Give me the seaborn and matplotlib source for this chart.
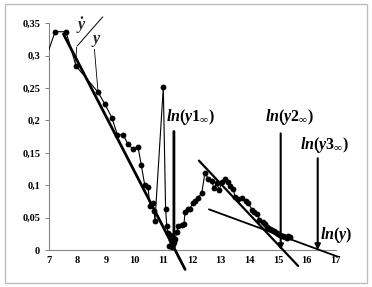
import matplotlib
matplotlib.use("Agg")
import matplotlib.pyplot as plt
import seaborn as sns
import numpy as np
from matplotlib.patches import Rectangle
from matplotlib.ticker import MultipleLocator, FuncFormatter

sns.set_style("white")
plt.rcParams['font.family'] = ['Liberation Serif', 'DejaVu Serif']
plt.rcParams['mathtext.fontset'] = 'custom'
plt.rcParams['mathtext.it'] = 'Liberation Serif:italic:bold'
plt.rcParams['mathtext.rm'] = 'Liberation Serif:bold'

# data series (ln scale on x, rate on y)
x_vals = [6.9, 7.23, 7.61, 7.96, 8.72, 8.97, 9.21, 9.40, 9.59, 9.78, 9.94, 10.12,
          10.23, 10.35, 10.47, 10.53, 10.63, 10.68, 10.71, 11.00, 11.08, 11.12,
          11.17, 11.23, 11.26, 11.21, 11.29, 11.35, 11.41, 11.47, 11.52, 11.64,
          11.72, 11.76, 11.87, 11.93, 12.02, 12.10, 12.22, 12.34, 12.45, 12.57,
          12.69, 12.77, 12.86, 12.95, 13.03, 13.15, 13.27, 13.32, 13.44, 13.50,
          13.61, 13.73, 13.88, 13.96, 14.10, 14.16, 14.28, 14.35, 14.46, 14.54,
          14.60, 14.66, 14.72, 14.78, 14.84, 14.89, 14.95, 15.01, 15.07, 15.12,
          15.18, 15.24, 15.30, 15.36, 15.41]
y_vals = [0.295, 0.337, 0.337, 0.284, 0.244, 0.225, 0.204, 0.178, 0.178, 0.163,
          0.156, 0.159, 0.132, 0.101, 0.097, 0.068, 0.072, 0.060, 0.045, 0.251,
          0.064, 0.037, 0.026, 0.023, 0.015, 0.006, 0.005, 0.009, 0.017, 0.028,
          0.037, 0.038, 0.040, 0.059, 0.064, 0.064, 0.072, 0.075, 0.081, 0.088,
          0.119, 0.110, 0.106, 0.095, 0.104, 0.092, 0.105, 0.109, 0.105, 0.099,
          0.094, 0.082, 0.079, 0.081, 0.075, 0.072, 0.062, 0.058, 0.056, 0.047,
          0.044, 0.040, 0.036, 0.034, 0.033, 0.031, 0.029, 0.028, 0.026, 0.025,
          0.023, 0.022, 0.021, 0.020, 0.019, 0.021, 0.020]

# fitted straight lines (start, end)
fit1_x = [7.52, 11.76]
fit1_y = [0.3335, -0.030]
fit2_x = [12.24, 15.70]
fit2_y = [0.138, -0.0247]
fit3_x = [12.59, 17.08]
fit3_y = [0.0628, -0.0103]

# asymptote markers
asym_x = [11.37, 15.09, 16.38]
asym_top = [0.183, 0.180, 0.1416]
asym_labels = [r'$ln(y1_{\infty})$', r'$ln(y2_{\infty})$', r'$ln(y3_{\infty})$']

yticks = [0, 0.05, 0.1, 0.15, 0.2, 0.25, 0.3, 0.35]
xticks = list(range(7, 18))

fig = plt.figure(figsize=(3.72, 2.87), dpi=100)
fig.patches.append(Rectangle((5/372, 4/287), 362/372, 279/287, transform=fig.transFigure,
                             fill=False, edgecolor='#bdbdbd', lw=1.0))
ax = fig.add_axes([48.5/372, 37/287, 287/372, 226.7/287])

sns.lineplot(x=x_vals, y=y_vals, sort=False, estimator=None, ax=ax, color='black',
             lw=0.8, marker='o', markersize=4.2, markeredgewidth=0, zorder=3)

ax.plot(fit1_x, fit1_y, color='black', lw=2.0, clip_on=False, zorder=4)
ax.plot(fit2_x, fit2_y, color='black', lw=1.6, clip_on=False, zorder=4)
ax.plot(fit3_x, fit3_y, color='black', lw=1.3, clip_on=False, zorder=4)

lws = [2.0, 1.5, 1.5]
for xa, yt, lw in zip(asym_x, asym_top, lws):
    ax.annotate('', xy=(xa, 0.0), xytext=(xa, yt),
                arrowprops=dict(arrowstyle='-|>', color='black', lw=lw,
                                mutation_scale=8, shrinkA=0, shrinkB=0),
                annotation_clip=False, zorder=5)

lab_pos = [(11.1, 0.205), (14.54, 0.205), (15.76, 0.162)]
for (lx, ly), lab in zip(lab_pos, asym_labels):
    ax.text(lx, ly, lab, fontsize=11.5, ha='left', va='center', color='black')
ax.text(16.46, 0.023, r'$ln(y)$', fontsize=11.5, ha='left', va='center', color='black')

# ydot / y annotation
ax.plot([8.0, 8.89], [0.315, 0.36], color='black', lw=0.7, clip_on=False)
ax.plot([7.98, 7.95], [0.313, 0.29], color='black', lw=0.6, clip_on=False)
ax.plot([8.6, 8.72], [0.31, 0.247], color='black', lw=0.6, clip_on=False)
ax.text(8.16, 0.346, r'$\dot{y}$', fontsize=11.5, ha='center', va='center')
ax.text(8.66, 0.322, r'$y$', fontsize=11.5, ha='center', va='center')

ax.set_xlim(7, 17)
ax.set_ylim(0, 0.35)
ax.set_xticks(xticks)
ax.set_yticks(yticks)
ax.xaxis.set_minor_locator(MultipleLocator(0.5))
ax.yaxis.set_major_formatter(FuncFormatter(lambda v, p: ('%g' % v).replace('.', ',')))
ax.xaxis.set_major_formatter(FuncFormatter(lambda v, p: '%d' % v))
for lab in ax.get_xticklabels() + ax.get_yticklabels():
    lab.set_fontweight('bold')
ax.tick_params(axis='both', labelsize=7.5, colors='#808080', labelcolor='black')
ax.tick_params(axis='x', which='both', direction='inout', length=4, width=0.7, pad=2)
ax.tick_params(axis='y', direction='out', length=3, width=0.7, pad=3, left=True)
for s in ['top', 'right']:
    ax.spines[s].set_visible(False)
for s in ['left', 'bottom']:
    ax.spines[s].set_color('#868686')
    ax.spines[s].set_linewidth(0.8)
ax.patch.set_alpha(0)

fig.savefig('out.png', dpi=100)
